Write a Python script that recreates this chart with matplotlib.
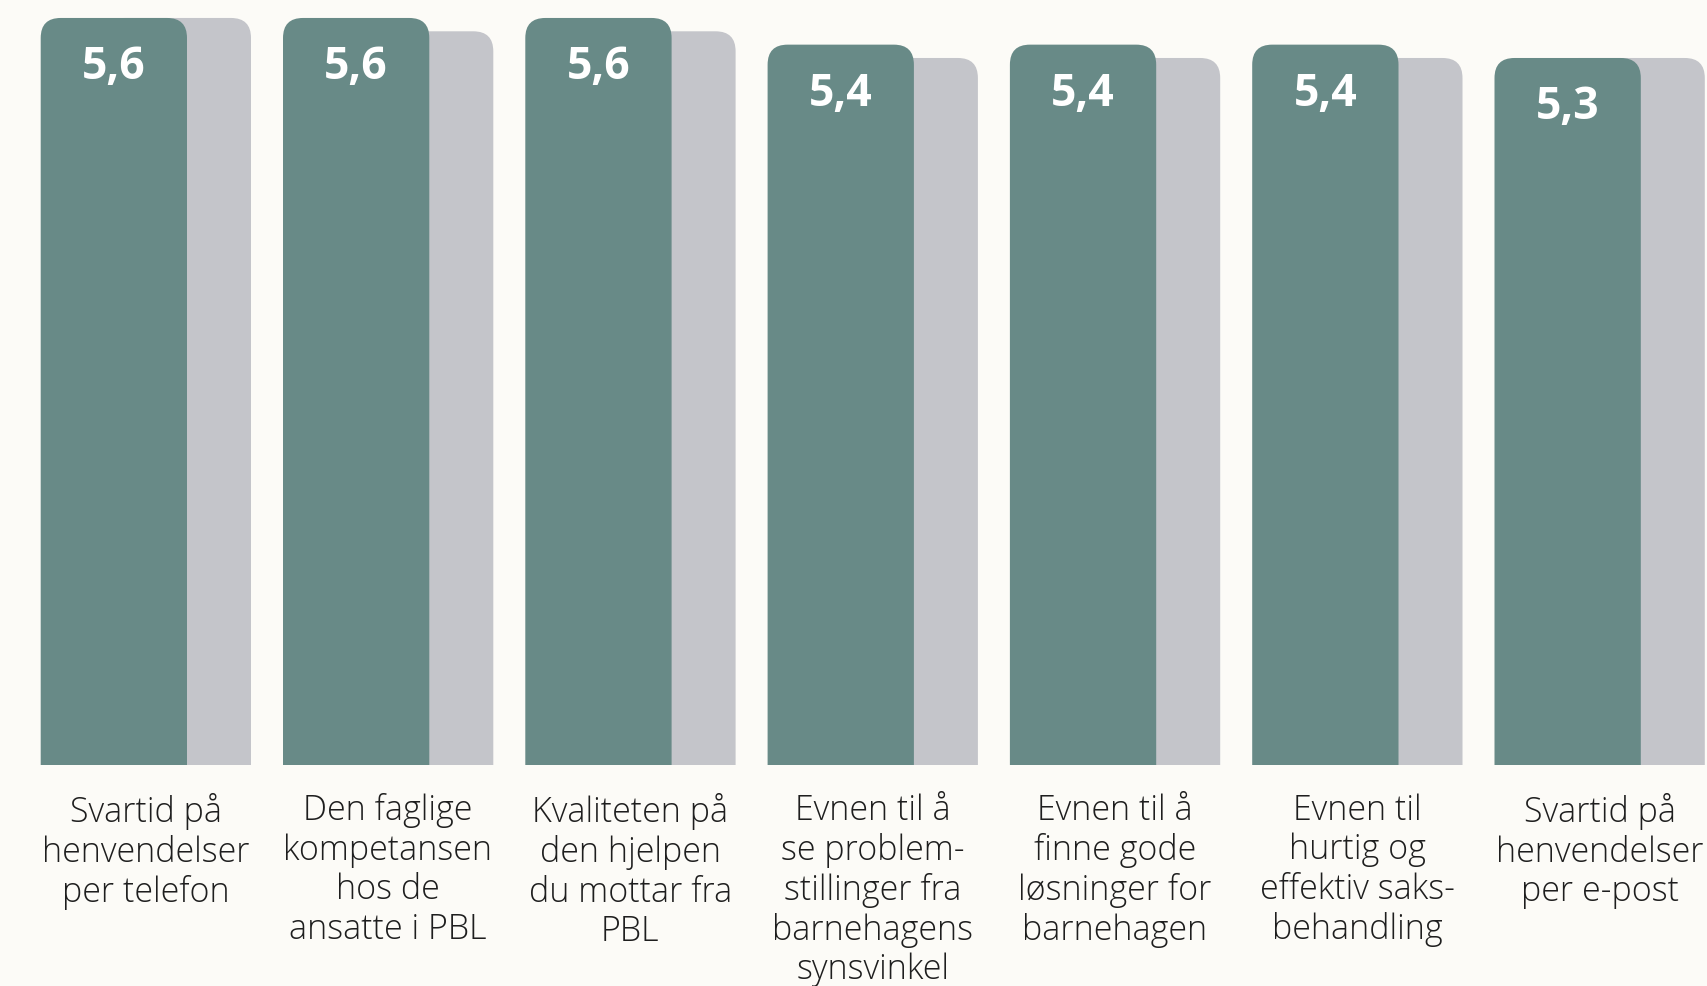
import matplotlib
matplotlib.use('Agg')
import matplotlib.pyplot as plt
from matplotlib.patches import FancyBboxPatch
from matplotlib import font_manager

categories = [
    "Svartid på\nhenvendelser\nper telefon",
    "Den faglige\nkompetansen\nhos de\nansatte i PBL",
    "Kvaliteten på\nden hjelpen\ndu mottar fra\nPBL",
    "Evnen til å\nse problem-\nstillinger fra\nbarnehagens\nsynsvinkel",
    "Evnen til å\nfinne gode\nløsninger for\nbarnehagen",
    "Evnen til\nhurtig og\neffektiv saks-\nbehandling",
    "Svartid på\nhenvendelser\nper e-post",
]
values = [5.6, 5.6, 5.6, 5.4, 5.4, 5.4, 5.3]
values_prev = [5.6, 5.5, 5.5, 5.3, 5.3, 5.3, 5.3]
value_labels = ["5,6", "5,6", "5,6", "5,4", "5,4", "5,4", "5,3"]

GREEN = '#688a87'
GREY = '#c4c5ca'
BG = '#fcfbf7'


def open_sans(filename, size):
    for f in font_manager.fontManager.ttflist:
        if f.fname.endswith(filename):
            return font_manager.FontProperties(fname=f.fname, size=size)
    return font_manager.FontProperties(family='Open Sans', size=size)


label_font = open_sans('OpenSans-Light.ttf', 24.5)
value_font = open_sans('OpenSans-Bold.ttf', 32)

W, H, DPI = 1707, 986, 100
fig = plt.figure(figsize=(W / DPI, H / DPI), dpi=DPI, facecolor=BG)

# axes: baseline 221 px above bottom, spans full width
base_px = 221
ax = fig.add_axes([0, base_px / H, 1, 1 - base_px / H])
ax.set_facecolor(BG)
slot_px = 242.3
px_per_unit = 133.4
x0 = -145.7 / slot_px
ax.set_xlim(x0, x0 + W / slot_px)
ax.set_ylim(0, (H - base_px) / px_per_unit)
ax.axis('off')

green_w = 146.3 / slot_px
shift = 64 / slot_px
left_off = -105 / slot_px
radius = 20 / slot_px
aspect = slot_px / px_per_unit
ext = 30 / px_per_unit

for i, (v, p) in enumerate(zip(values, values_prev)):
    gx = i + left_off
    # grey bar behind
    grey = FancyBboxPatch((gx + shift, -ext), green_w, p + ext,
                          boxstyle=f"round,pad=0,rounding_size={radius}",
                          mutation_aspect=aspect, fc=GREY, ec='none', zorder=1)
    ax.add_patch(grey)
    green = FancyBboxPatch((gx, -ext), green_w, v + ext,
                           boxstyle=f"round,pad=0,rounding_size={radius}",
                           mutation_aspect=aspect, fc=GREEN, ec='none', zorder=2)
    ax.add_patch(green)
    ax.annotate(value_labels[i], (gx + green_w / 2, v), xytext=(0, -61),
                textcoords='offset pixels', ha='center', va='baseline',
                color='white', fontproperties=value_font, zorder=3)
    ax.annotate(categories[i], (i, 0), xytext=(0, -28),
                textcoords='offset pixels', ha='center', va='top',
                color='#1e1e1e', fontproperties=label_font, linespacing=1.19,
                annotation_clip=False)

fig.savefig('out.png', dpi=DPI, facecolor=BG)
